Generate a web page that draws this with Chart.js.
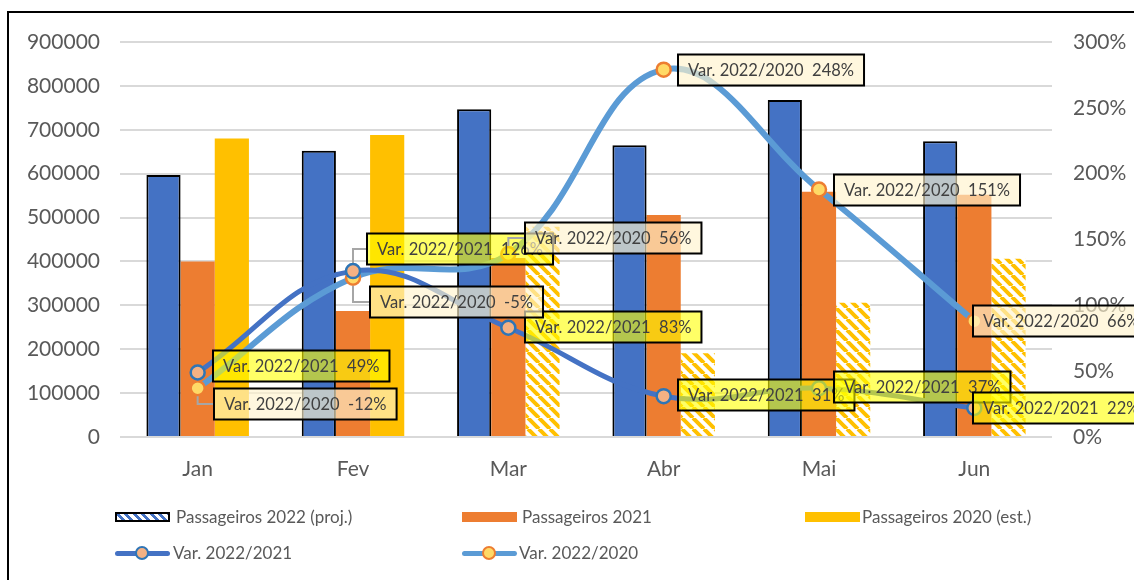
<!DOCTYPE html>
<html>
<head>
<meta charset="utf-8">
<script src="https://cdn.jsdelivr.net/npm/chart.js@4.4.0/dist/chart.umd.min.js"></script>
<style>
  html, body { margin: 0; padding: 0; background: #fff; }
  #wrap { position: relative; width: 1134px; height: 580px; overflow: hidden; font-family: Lato, sans-serif; }
  #frame { position: absolute; left: 7px; top: 11px; width: 1200px; height: 700px; border: 2px solid #000; box-sizing: border-box; }
  #chart { position: absolute; left: 0; top: 0; }
  .lg { position: absolute; color: #595959; font-size: 17px; line-height: 20px; white-space: nowrap; }
  .sw { position: absolute; width: 55px; height: 10px; }
  .hatch { box-sizing: border-box; border: 2px solid #000;
    background: repeating-linear-gradient(45deg, #fff 0 3px, #4472C4 3px 6px); }
  .ln { position: absolute; width: 55px; height: 5px; border-radius: 3px; }
  .mk { position: absolute; width: 10px; height: 10px; border-radius: 50%; border: 2px solid; }
</style>
</head>
<body>
<div id="wrap">
  <canvas id="chart" width="1134" height="580"></canvas>
  <div id="frame"></div>

  <div class="sw hatch" style="left:115px;top:512px"></div>
  <div class="lg" style="left:176px;top:507px">Passageiros 2022 (proj.)</div>
  <div class="sw" style="left:462px;top:512px;background:#ED7D31"></div>
  <div class="lg" style="left:522px;top:507px">Passageiros 2021</div>
  <div class="sw" style="left:805px;top:512px;background:#FFC000"></div>
  <div class="lg" style="left:862px;top:507px">Passageiros 2020 (est.)</div>

  <div class="ln" style="left:115px;top:551px;background:#4472C4"></div>
  <div class="mk" style="left:135px;top:546px;background:#F4B183;border-color:#2E75B6"></div>
  <div class="lg" style="left:173px;top:543px">Var. 2022/2021</div>
  <div class="ln" style="left:462px;top:551px;background:#5B9BD5"></div>
  <div class="mk" style="left:482px;top:546px;background:#FFD966;border-color:#ED7D31"></div>
  <div class="lg" style="left:519px;top:543px">Var. 2022/2020</div>
</div>

<script>
// categories
const months = ['Jan', 'Fev', 'Mar', 'Abr', 'Mai', 'Jun'];

// passengers per month
const pax2022 = [597000, 652000, 747000, 665000, 768000, 674000];
const pax2021 = [400000, 287000, 408000, 506000, 559000, 552000];
const pax2020 = [680000, 688000, 479000, 191000, 306000, 406000];
// which 2020 bars are drawn hatched
const pax2020Hatched = [false, false, true, true, true, true];

// variations in %, the chart stacks them on the right axis
const var2022vs2021 = [49, 126, 83, 31, 37, 22];
const var2022vs2020 = [-12, -5, 56, 248, 151, 66];

// axis ranges
const leftMax = 900000, leftStep = 100000;
const rightMax = 300, rightStep = 50;

const TICK_COLOR = '#595959';
const FONT = 'Lato, sans-serif';

function hatchPattern(color) {
  const s = 11;
  const c = document.createElement('canvas');
  c.width = s; c.height = s;
  const g = c.getContext('2d');
  g.fillStyle = '#fff';
  g.fillRect(0, 0, s, s);
  g.strokeStyle = color;
  g.lineWidth = 4;
  g.beginPath();
  for (const o of [-s, 0, s]) { g.moveTo(o, 0); g.lineTo(o + s, s); }
  g.stroke();
  return document.getElementById('chart').getContext('2d').createPattern(c, 'repeat');
}

const yellowHatch = hatchPattern('#FFC000');

// data label boxes: offsets from the point (box left, box centre y)
const varLabels = {
  id: 'varLabels',
  afterDraw(chart, args, opts) {
    const ctx = chart.ctx;
    ctx.save();
    ctx.font = opts.font;
    ctx.textBaseline = 'middle';
    const h = 31, padX = 10;
    opts.series.forEach(s => {
      const meta = chart.getDatasetMeta(s.dataset);
      const ds = chart.data.datasets[s.dataset];
      meta.data.forEach((pt, i) => {
        const [dx, dy] = s.offsets[i];
        const text = ds.label + '  ' + ds.data[i] + '%';
        const w = ctx.measureText(text).width + padX * 2;
        const left = Math.round(pt.x + dx), cy = Math.round(pt.y + dy);
        if (Math.abs(dy) > 6) {
          ctx.strokeStyle = '#A6A6A6';
          ctx.lineWidth = 2;
          ctx.beginPath();
          ctx.moveTo(pt.x, pt.y + Math.sign(dy) * 8);
          ctx.lineTo(pt.x, cy);
          ctx.lineTo(left, cy);
          ctx.stroke();
        }
        ctx.fillStyle = s.fill;
        ctx.fillRect(left, cy - h / 2, w, h);
        ctx.strokeStyle = '#000';
        ctx.lineWidth = 2;
        ctx.strokeRect(left, cy - h / 2, w, h);
        ctx.fillStyle = '#404040';
        ctx.fillText(text, left + padX, cy + 1);
      });
    });
    ctx.restore();
  }
};

new Chart(document.getElementById('chart'), {
  type: 'bar',
  data: {
    labels: months,
    datasets: [
      {
        type: 'line', label: 'Var. 2022/2021', data: var2022vs2021, yAxisID: 'y2', order: 0,
        borderColor: '#4472C4', borderWidth: 5, tension: 0.4, fill: false,
        pointRadius: 7, pointBorderWidth: 2.5, pointBackgroundColor: '#F4B183', pointBorderColor: '#2E75B6'
      },
      {
        type: 'line', label: 'Var. 2022/2020', data: var2022vs2020, yAxisID: 'y2', order: 0,
        borderColor: '#5B9BD5', borderWidth: 6, tension: 0.4, fill: false,
        pointRadius: 7, pointBorderWidth: 2.5, pointBackgroundColor: '#FFD966', pointBorderColor: '#ED7D31'
      },
      {
        label: 'Passageiros 2022 (proj.)', data: pax2022, yAxisID: 'y', order: 1,
        backgroundColor: '#4472C4', borderColor: '#000', borderWidth: 2
      },
      {
        label: 'Passageiros 2021', data: pax2021, yAxisID: 'y', order: 1,
        backgroundColor: '#ED7D31', borderWidth: 0
      },
      {
        label: 'Passageiros 2020 (est.)', data: pax2020, yAxisID: 'y', order: 1,
        backgroundColor: pax2020Hatched.map(hh => hh ? yellowHatch : '#FFC000'), borderWidth: 0
      }
    ]
  },
  options: {
    responsive: false,
    animation: false,
    devicePixelRatio: 1,
    layout: { padding: { top: 42, left: 0, right: 0, bottom: 0 } },
    datasets: { bar: { categoryPercentage: 0.66, barPercentage: 1.0 } },
    scales: {
      x: {
        grid: { display: false },
        border: { display: false },
        ticks: { color: TICK_COLOR, font: { family: FONT, size: 21 }, padding: 12 },
        afterFit: s => { s.height = 143; }
      },
      y: {
        position: 'left', min: 0, max: leftMax,
        ticks: { stepSize: leftStep, color: TICK_COLOR, font: { family: FONT, size: 21 }, padding: 20,
                 callback: v => String(v) },
        grid: { color: '#D9D9D9', lineWidth: 2, drawTicks: false },
        border: { display: false },
        afterFit: s => { s.width = 120; }
      },
      y2: {
        position: 'right', min: 0, max: rightMax, stacked: 'single',
        ticks: { stepSize: rightStep, color: TICK_COLOR, font: { family: FONT, size: 21 }, padding: 21,
                 callback: v => v + '%' },
        grid: { display: false, drawTicks: false },
        border: { display: false },
        afterFit: s => { s.width = 82; }
      }
    },
    plugins: {
      legend: { display: false },
      tooltip: { enabled: false },
      varLabels: {
        font: '16.5px ' + FONT,
        series: [
          { dataset: 0, fill: 'rgba(255,255,0,0.6)',
            offsets: [[15, -6], [14, -22], [17, -1], [14, -1], [15, -1], [-1, 0]] },
          { dataset: 1, fill: 'rgba(255,242,204,0.65)',
            offsets: [[16, 16], [17, 24], [17, -16], [14, 0], [15, 1], [-1, 0]] }
        ]
      }
    }
  },
  plugins: [varLabels]
});
</script>
</body>
</html>
